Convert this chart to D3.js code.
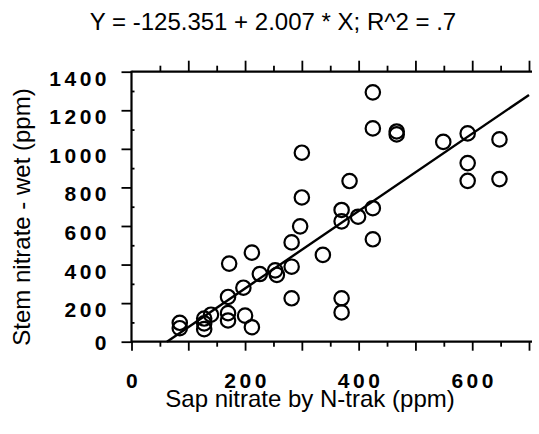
<!DOCTYPE html>
<html>
<head>
<meta charset="utf-8">
<script src="https://cdn.jsdelivr.net/npm/d3@7"></script>
<style>
  body { margin: 0; background: #fff; }
  svg text { font-family: "Liberation Sans", Arial, sans-serif; fill: #000; }
</style>
</head>
<body>
<div id="chart"></div>
<script>
// dados
const sapNitrate = [85, 85, 128, 128, 128, 140, 170, 170, 170, 172, 197, 200, 212, 212, 226, 253, 256,
  282, 282, 282, 297, 300, 300, 337, 370, 370, 370, 370, 384, 399, 425, 425, 425, 425,
  467, 467, 549, 592, 592, 592, 648, 648];
const stemNitrate = [98, 70, 120, 95, 65, 140, 232, 148, 110, 405, 280, 135, 75, 462, 351, 370, 346,
  515, 389, 225, 598, 748, 980, 450, 683, 624, 225, 152, 833, 648, 1293, 1106, 692, 531,
  1090, 1075, 1036, 1080, 926, 834, 1049, 843];
const xTicks = [0, 100, 200, 300, 400, 500, 600, 700];
const xMinorTicks = [50, 150, 250, 350, 450, 550, 650];
const xTickLabels = [0, 200, 400, 600];
const yTicks = [0, 200, 400, 600, 800, 1000, 1200, 1400];
const fitIntercept = -125.351;
const fitSlope = 2.007;
const chartTitle = 'Y = -125.351 + 2.007 * X; R^2 = .7';
const xTitle = 'Sap nitrate by N-trak (ppm)';
const yTitle = 'Stem nitrate - wet (ppm)';

const width = 539, height = 434;
const plotLeft = 131.5, plotRight = 529, plotTop = 71.7, plotBottom = 341.7;

const svg = d3.select('#chart').append('svg')
  .attr('width', width)
  .attr('height', height);

const x = d3.scaleLinear().domain([0, 700]).range([plotLeft, plotRight]);
const y = d3.scaleLinear().domain([0, 1400]).range([plotBottom, plotTop]);

// eixo inferior
const gBottom = svg.append('g').attr('transform', `translate(0,${plotBottom})`);
gBottom.call(d3.axisBottom(x).tickValues(xTicks).tickSize(9).tickFormat(''));
gBottom.append('g').call(d3.axisBottom(x).tickValues(xMinorTicks).tickSize(5).tickFormat(''));

// eixo superior
const gTop = svg.append('g').attr('transform', `translate(0,${plotTop})`);
gTop.call(d3.axisTop(x).tickValues(xTicks.slice(1)).tickSize(11).tickFormat(''));
gTop.append('g').call(d3.axisTop(x).tickValues(xMinorTicks).tickSize(6).tickFormat(''));

// eixo esquerdo
const gLeft = svg.append('g').attr('transform', `translate(${plotLeft},0)`);
gLeft.call(d3.axisLeft(y).tickValues(yTicks).tickSize(10).tickFormat(''));
gLeft.append('g').call(d3.axisRight(y).tickValues(yTicks.map(v => v + 100).filter(v => v < 1400))
  .tickSize(3).tickFormat(''));

svg.selectAll('path.domain').remove();
svg.selectAll('.tick line').attr('stroke', '#000').attr('stroke-width', 1.8);

// linhas dos eixos
svg.append('line').attr('x1', plotLeft).attr('x2', plotRight + 3).attr('y1', plotBottom).attr('y2', plotBottom)
  .attr('stroke', '#000').attr('stroke-width', 2.2);
svg.append('line').attr('x1', plotLeft).attr('x2', plotRight + 3).attr('y1', plotTop).attr('y2', plotTop)
  .attr('stroke', '#000').attr('stroke-width', 2.2);
svg.append('line').attr('x1', plotLeft).attr('x2', plotLeft).attr('y1', plotTop - 1).attr('y2', plotBottom + 1)
  .attr('stroke', '#000').attr('stroke-width', 2.2);

// rótulos dos ticks
svg.selectAll('.xlab')
  .data(xTickLabels)
  .enter().append('text')
  .attr('class', 'xlab')
  .attr('x', d => x(d) + 2)
  .attr('y', 388)
  .attr('text-anchor', 'middle')
  .style('font-size', '21px')
  .style('font-weight', 'bold')
  .style('letter-spacing', '3.5px')
  .text(d => d);

svg.selectAll('.ylab')
  .data(yTicks)
  .enter().append('text')
  .attr('class', 'ylab')
  .attr('x', 110)
  .attr('y', d => d === 0 ? y(d) + 8 : y(d) + 14)
  .attr('text-anchor', 'end')
  .style('font-size', '21px')
  .style('font-weight', 'bold')
  .style('letter-spacing', '3.5px')
  .text(d => d);

// títulos
svg.append('text')
  .attr('x', 273).attr('y', 30)
  .attr('text-anchor', 'middle')
  .style('font-size', '24px')
  .text(chartTitle);

svg.append('text')
  .attr('x', 310).attr('y', 407)
  .attr('text-anchor', 'middle')
  .style('font-size', '24px')
  .text(xTitle);

svg.append('text')
  .attr('transform', 'translate(30,217) rotate(-90)')
  .attr('text-anchor', 'middle')
  .style('font-size', '24px')
  .text(yTitle);

// reta de regressão
const x0 = -fitIntercept / fitSlope;
svg.append('line')
  .attr('x1', x(x0)).attr('y1', y(0))
  .attr('x2', x(700)).attr('y2', y(fitIntercept + fitSlope * 700))
  .attr('stroke', '#000').attr('stroke-width', 2.4);

// pontos
const points = sapNitrate.map((v, i) => ({ sap: v, stem: stemNitrate[i] }));
svg.selectAll('.pt')
  .data(points)
  .enter().append('circle')
  .attr('class', 'pt')
  .attr('cx', d => x(d.sap))
  .attr('cy', d => y(d.stem))
  .attr('r', 7.2)
  .attr('fill', 'none')
  .attr('stroke', '#000')
  .attr('stroke-width', 2.2);
</script>
</body>
</html>
